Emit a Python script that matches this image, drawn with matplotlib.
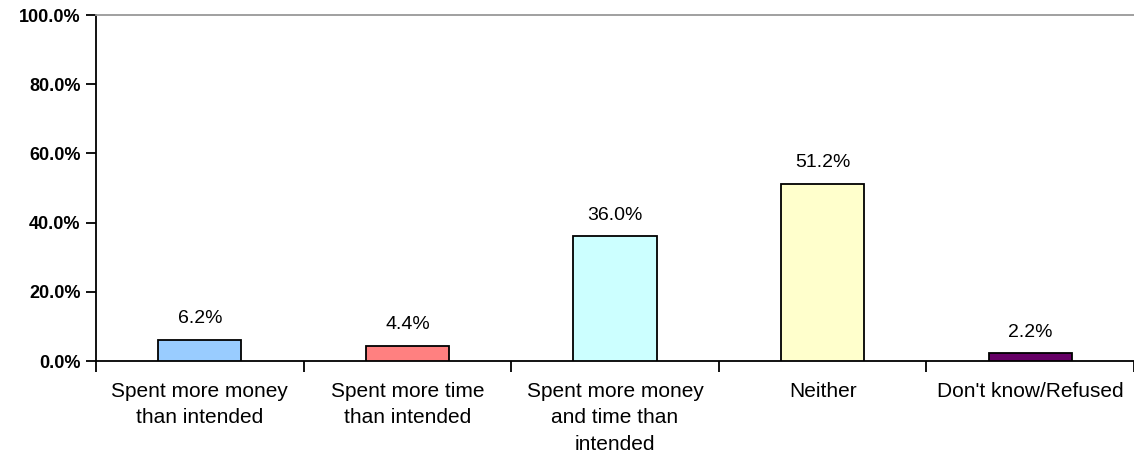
import matplotlib.pyplot as plt
from matplotlib.ticker import FuncFormatter, FixedLocator

plt.rcParams['font.family'] = ['Liberation Sans', 'DejaVu Sans']

categories = ["Spent more money\nthan intended", "Spent more time\nthan intended",
              "Spent more money\nand time than\nintended", "Neither", "Don't know/Refused"]
values = [6.2, 4.4, 36.0, 51.2, 2.2]
colors = ["#99CCFF", "#FF8080", "#CCFFFF", "#FFFFCC", "#660066"]

fig = plt.figure(figsize=(11.34, 4.57), dpi=100)
ax = fig.add_axes([96/1134, 1 - 361/457, 1 - 96/1134, 346/457])

x = range(len(values))
ax.bar(x, values, width=0.4, color=colors, edgecolor="black", linewidth=1.3, zorder=3)
for xi, v in zip(x, values):
    ax.annotate(f"{v:.1f}%", (xi, v), xytext=(0, 9), textcoords="offset points",
                ha="center", va="bottom", fontsize=14)

ax.set_xlim(-0.5, len(values) - 0.5)
ax.set_ylim(0, 100)
ax.set_yticks([0, 20, 40, 60, 80, 100])
ax.yaxis.set_major_formatter(FuncFormatter(lambda v, p: f"{v:.1f}%"))
for lab in ax.get_yticklabels():
    lab.set_fontweight("bold")
    lab.set_fontsize(13)
ax.tick_params(axis="y", direction="out", length=7, width=1.3, pad=4)

# category labels at centres, tick marks at the boundaries
ax.set_xticks(list(x))
ax.set_xticklabels(categories, fontsize=15, linespacing=1.5)
ax.tick_params(axis="x", length=0, pad=15)
ax.xaxis.set_minor_locator(FixedLocator([i - 0.5 for i in range(len(values) + 1)]))
ax.tick_params(axis="x", which="minor", direction="out", length=8, width=1.3)

ax.spines["top"].set_color("#999999")
ax.spines["top"].set_linewidth(1.3)
ax.spines["right"].set_visible(False)
ax.spines["left"].set_linewidth(1.3)
ax.spines["bottom"].set_linewidth(1.3)

fig.savefig("out.png", dpi=100)
